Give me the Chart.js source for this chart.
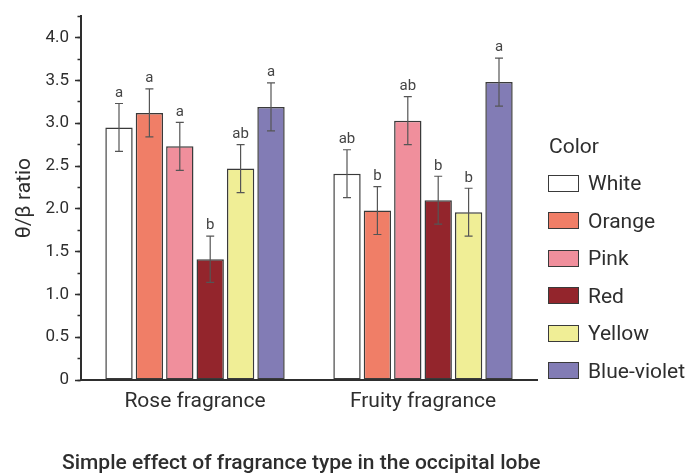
<!DOCTYPE html>
<html>
<head>
<meta charset="utf-8">
<script src="https://cdn.jsdelivr.net/npm/chart.js@4.4.1/dist/chart.umd.min.js"></script>
<style>
  body { margin: 0; background: #fff; }
  #wrap { position: relative; width: 691px; height: 474px; font-family: Roboto, sans-serif; color: #2e2e2e; }
  #legend { position: absolute; left: 548px; top: 0; }
  #legend .title { position: absolute; left: 1px; top: 133px; font-size: 21px; line-height: 26px; white-space: nowrap; }
  #legend .item { position: absolute; left: 0; height: 26px; display: flex; align-items: center; white-space: nowrap; font-size: 21px; }
  #legend .swatch { width: 29px; height: 15px; border: 1px solid #3a3a3a; margin-right: 9px; }
  #caption { position: absolute; left: 62px; top: 449px; font-size: 21px; font-weight: 500; line-height: 26px; white-space: nowrap; }
</style>
</head>
<body>
<div id="wrap">
  <canvas id="chart" width="691" height="474"></canvas>
  <div id="legend"></div>
  <div id="caption">Simple effect of fragrance type in the occipital lobe</div>
</div>
<script>
const fragrances = ["Rose fragrance", "Fruity fragrance"];
const colorNames = ["White", "Orange", "Pink", "Red", "Yellow", "Blue-violet"];
const fillColors = ["#ffffff", "#f07e67", "#f08f9c", "#93252c", "#f0ee96", "#827cb5"];

const roseMeans = [2.95, 3.12, 2.73, 1.41, 2.47, 3.19];
const roseErrors = [0.28, 0.28, 0.28, 0.27, 0.28, 0.28];
const roseLetters = ["a", "a", "a", "b", "ab", "a"];

const fruityMeans = [2.41, 1.98, 3.03, 2.10, 1.96, 3.48];
const fruityErrors = [0.28, 0.28, 0.28, 0.28, 0.28, 0.28];
const fruityLetters = ["ab", "b", "ab", "b", "b", "a"];

const yMax = 4.25;
const FONT = "Roboto, sans-serif";
const INK = "#2e2e2e";

Chart.defaults.font.family = FONT;
Chart.defaults.color = INK;

const datasets = colorNames.map((name, i) => ({
  label: name,
  data: [roseMeans[i], fruityMeans[i]],
  errors: [roseErrors[i], fruityErrors[i]],
  letters: [roseLetters[i], fruityLetters[i]],
  backgroundColor: fillColors[i],
  borderColor: "#3a3a3a",
  borderWidth: 1.5,
  borderSkipped: false,
}));

// error bars + significance letters on top of each bar
const errorBars = {
  id: "errorBars",
  afterDatasetsDraw(chart) {
    const { ctx } = chart;
    const y = chart.scales.y;
    ctx.save();
    chart.data.datasets.forEach((ds, i) => {
      chart.getDatasetMeta(i).data.forEach((bar, j) => {
        const v = ds.data[j], e = ds.errors[j];
        const top = y.getPixelForValue(v + e);
        const bot = y.getPixelForValue(v - e);
        ctx.strokeStyle = "#555";
        ctx.lineWidth = 1.2;
        ctx.beginPath();
        ctx.moveTo(bar.x, top); ctx.lineTo(bar.x, bot);
        ctx.moveTo(bar.x - 4, top); ctx.lineTo(bar.x + 4, top);
        ctx.moveTo(bar.x - 4, bot); ctx.lineTo(bar.x + 4, bot);
        ctx.stroke();
        ctx.fillStyle = "#444";
        ctx.font = "15px " + FONT;
        ctx.textAlign = "center";
        ctx.textBaseline = "bottom";
        ctx.fillText(ds.letters[j], bar.x, top - 3);
      });
    });
    ctx.restore();
  },
};

const chart = new Chart(document.getElementById("chart"), {
  type: "bar",
  data: { labels: fragrances, datasets },
  options: {
    responsive: false,
    animation: false,
    layout: { padding: { top: 16, right: 154, left: 0, bottom: 0 } },
    plugins: { legend: { display: false }, tooltip: { enabled: false } },
    scales: {
      x: {
        grid: { display: false, drawTicks: false },
        border: { color: INK, width: 2 },
        ticks: { font: { size: 21 }, color: INK, padding: 9 },
        afterFit: (s) => { s.height = 94; },
      },
      y: {
        min: 0,
        max: yMax,
        weight: 1,
        grid: { drawOnChartArea: false, tickLength: 6, tickColor: INK, tickWidth: 1.5 },
        border: { color: INK, width: 2 },
        ticks: {
          stepSize: 0.5,
          includeBounds: false,
          padding: 6,
          font: { size: 17 },
          color: INK,
          callback: (v) => (v === 0 ? "0" : v.toFixed(1)),
        },
        title: { display: true, text: "θ/β ratio", font: { size: 21 }, color: INK, padding: { top: 12, bottom: 0 } },
        afterFit: (s) => { s.width = 81; },
      },
      yMinor: {
        position: "left",
        min: 0,
        max: yMax,
        weight: 0,
        grid: { drawOnChartArea: false, tickLength: 3.5, tickColor: INK, tickWidth: 1.5 },
        border: { display: false },
        ticks: { stepSize: 0.25, display: false },
        afterFit: (s) => { s.width = 0; },
      },
    },
  },
  plugins: [errorBars],
});

// HTML legend built from the chart's datasets
const legend = document.getElementById("legend");
legend.innerHTML = '<div class="title">Color</div>' + chart.data.datasets
  .map((ds, i) => `<div class="item" style="top:${170 + i * 37.5}px">
      <span class="swatch" style="background:${ds.backgroundColor}"></span>${ds.label}</div>`)
  .join("");
</script>
</body>
</html>
